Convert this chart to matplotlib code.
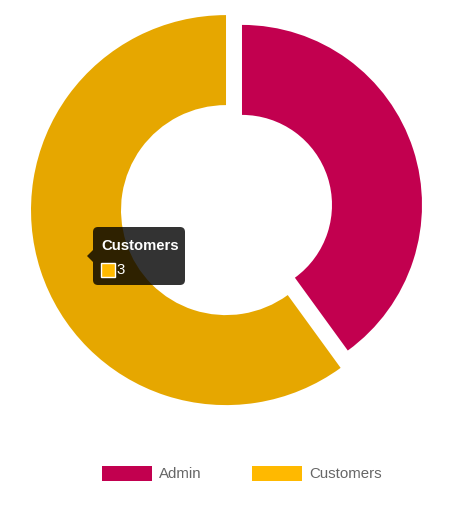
import matplotlib.pyplot as plt
from matplotlib.patches import Rectangle, FancyBboxPatch, Polygon

labels = ["Admin", "Customers"]
values = [2, 3]
slice_colors = ["#C2004F", "#E6A700"]
legend_colors = ["#C2004F", "#FFB900"]
hovered = 1

W, H = 475, 527
fig = plt.figure(figsize=(W / 100, H / 100), dpi=100)
ax = fig.add_axes([0, 0, 1, 1])
ax.set_xlim(0, W)
ax.set_ylim(0, H)
ax.axis("off")

font = ["Liberation Sans", "DejaVu Sans"]

# doughnut, both slices pushed a bit apart (explode is in pixels here)
wedges, _ = ax.pie(values, colors=slice_colors, startangle=90, counterclock=False,
                   center=(234, H - 207.5), radius=180, explode=[8.4, 8.4],
                   wedgeprops=dict(width=90, linewidth=0))
# hovered slice drawn larger
wedges[hovered].set_radius(195)
wedges[hovered].set_width(90)
ax.set_xlim(0, W)
ax.set_ylim(0, H)
ax.set_aspect("equal")

# tooltip
tip = FancyBboxPatch((93, H - 285), 92, 58, boxstyle="round,pad=0,rounding_size=5",
                     facecolor=(0, 0, 0, 0.8), edgecolor="none", zorder=5)
ax.add_patch(tip)
ax.add_patch(Polygon([(93, H - 250), (87, H - 256), (93, H - 262)], closed=True,
                     facecolor=(0, 0, 0, 0.8), edgecolor="none", zorder=5))
ax.text(101, H - 250, labels[hovered], color="white", fontsize=10.7, fontweight="bold",
        family=font, va="baseline", ha="left", zorder=6)
ax.add_patch(Rectangle((100.5, H - 276.5), 14, 14, facecolor=legend_colors[hovered],
                       edgecolor="white", linewidth=1, zorder=6))
ax.text(116.5, H - 273.5, str(values[hovered]), color="white", fontsize=10.8,
        family=font, va="baseline", ha="left", zorder=6)

# legend
legend_x = [102, 252]
for lx, lab, col in zip(legend_x, labels, legend_colors):
    ax.add_patch(Rectangle((lx, H - 481), 50, 15, facecolor=col, edgecolor="none"))
    ax.text(lx + 57, H - 478.5, lab, color="#666666", fontsize=10.8, family=font,
            va="baseline", ha="left")

fig.savefig("out.png", dpi=100)
